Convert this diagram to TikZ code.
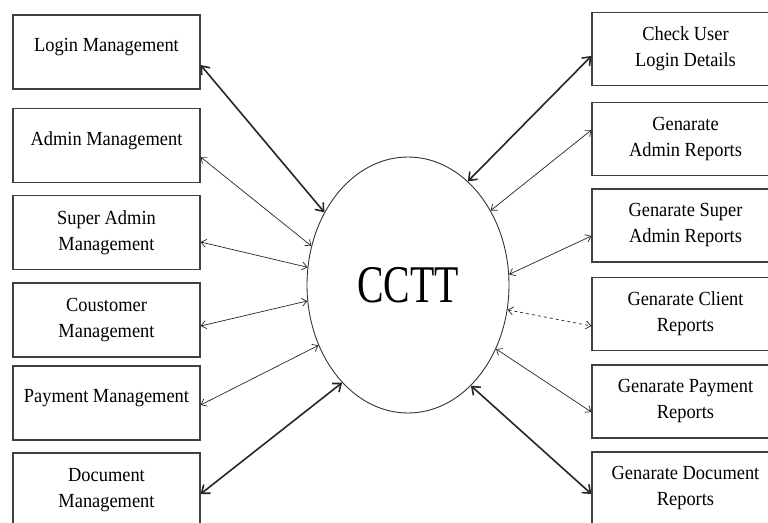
\documentclass[tikz,border=0pt]{standalone}
\usepackage{fontspec}
\setmainfont{Liberation Serif}[FakeStretch=0.92]
\newfontfamily\cctfont{Liberation Serif}[FakeStretch=0.75]
\usetikzlibrary{shapes.geometric,arrows.meta}
\tikzset{
  box/.style={draw=black!75, line width=1.2pt, minimum width=187pt, minimum height=74pt,
    inner sep=2pt, align=center, font=\fontsize{20}{26}\selectfont},
  oneline/.style={text depth=14pt},
  proc/.style={ellipse, draw=black!80, line width=0.9pt, minimum width=202pt,
    minimum height=256pt, inner sep=0pt, font=\cctfont\fontsize{53}{60}\selectfont},
  flow/.style={black!85, line width=0.7pt,
    {Straight Barb[length=5pt,width=8pt]}-{Straight Barb[length=5pt,width=8pt]}},
  bigflow/.style={black!85, line width=1.6pt,
    {Straight Barb[length=7pt,width=11pt]}-{Straight Barb[length=7pt,width=11pt]}},
}
\begin{document}
\begin{tikzpicture}[x=1pt, y=-1pt]
        \clip (0,0) rectangle (768,522);
        % centre
        \node[proc] (cctt) at (408,285) {CCTT};
        % left boxes
        \node[box, oneline] (login) at (106.5,52) {Login Management};
        \node[box, oneline] (admin) at (106.5,145.5) {Admin Management};
        \node[box] (super) at (106.5,232.5) {Super Admin\\Management};
        \node[box] (cust) at (106.5,320) {Coustomer\\Management};
        \node[box, oneline] (pay) at (106.5,403) {Payment Management};
        \node[box] (doc) at (106.5,490) {Document\\Management};
        % right boxes
        \node[box, minimum height=73pt] (chk) at (685.5,49) {Check User\\Login Details};
        \node[box, minimum height=73pt] (radmin) at (685.5,139) {Genarate\\Admin Reports};
        \node[box, minimum height=73pt] (rsuper) at (685.5,225.5) {Genarate Super\\Admin Reports};
        \node[box, minimum height=73pt] (rclient) at (685.5,314) {Genarate Client\\Reports};
        \node[box, minimum height=73pt] (rpay) at (685.5,401.5) {Genarate Payment\\Reports};
        \node[box, minimum height=73pt] (rdoc) at (685.5,488.5) {Genarate Document\\Reports};
        % arrows left
        \draw[bigflow] ([yshift=-13pt]login.east) -- (cctt.139.9);
        \draw[flow] ([yshift=-11.5pt]admin.east) -- (cctt.158.2);
        \draw[flow] ([yshift=-9.5pt]super.east) -- (cctt.170.4);
        \draw[flow] ([yshift=-6pt]cust.east) -- (cctt.189);
        \draw[flow] ([yshift=-2pt]pay.east) -- (cctt.214.1);
        \draw[bigflow] ([yshift=-4pt]doc.east) -- (cctt.236);
        % arrows right
        \draw[bigflow] (cctt.60.2) -- ([yshift=-7pt]chk.west);
        \draw[flow] (cctt.42.8) -- ([yshift=9pt]radmin.west);
        \draw[flow] (cctt.6.2) -- ([yshift=-10.5pt]rsuper.west);
        \draw[flow, dashed] (cctt.-14.4) -- ([yshift=-12pt]rclient.west);
        \draw[flow] (cctt.-36.1) -- ([yshift=-10.5pt]rpay.west);
        \draw[bigflow] (cctt.-58.7) -- ([yshift=-5.5pt]rdoc.west);
\end{tikzpicture}
\end{document}
